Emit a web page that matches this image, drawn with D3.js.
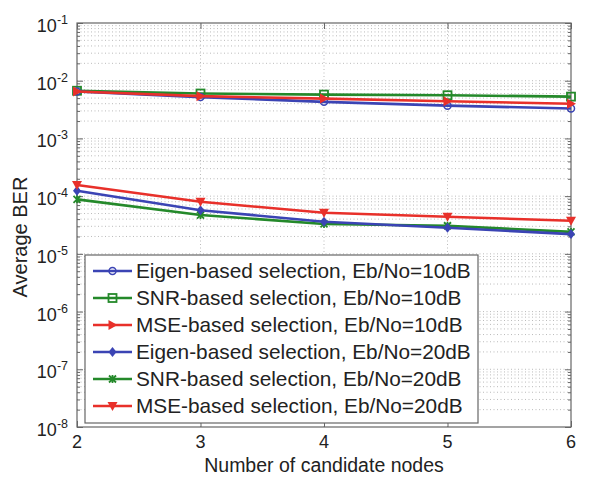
<!DOCTYPE html>
<html>
<head>
<meta charset="utf-8">
<script src="https://cdn.jsdelivr.net/npm/d3@7"></script>
<style>
  body { margin: 0; background: #fff; }
  svg { font-family: Arial, "Liberation Sans", sans-serif; }
</style>
</head>
<body>
<svg id="chart" width="593" height="486"></svg>
<script>
// candidate node counts on the x axis
var nodes = [2, 3, 4, 5, 6];

// average BER
var eigen10 = [6.5e-3, 5.2e-3, 4.3e-3, 3.7e-3, 3.3e-3];
var snr10   = [6.7e-3, 6.0e-3, 5.75e-3, 5.6e-3, 5.3e-3];
var mse10   = [6.5e-3, 5.4e-3, 4.9e-3, 4.4e-3, 4.0e-3];
var eigen20 = [1.24e-4, 5.7e-5, 3.6e-5, 2.83e-5, 2.2e-5];
var snr20   = [8.8e-5, 4.7e-5, 3.3e-5, 3.07e-5, 2.4e-5];
var mse20   = [1.56e-4, 8.0e-5, 5.15e-5, 4.4e-5, 3.75e-5];

var seriesNames = [
    "Eigen-based selection, Eb/No=10dB",
    "SNR-based selection, Eb/No=10dB",
    "MSE-based selection, Eb/No=10dB",
    "Eigen-based selection, Eb/No=20dB",
    "SNR-based selection, Eb/No=20dB",
    "MSE-based selection, Eb/No=20dB"
];
var yExponents = [-1, -2, -3, -4, -5, -6, -7, -8];

var BLUE = "#3b44b4", GREEN = "#24892a", RED = "#e8302a";

var series = [
    { name: seriesNames[0], values: eigen10, color: BLUE,  marker: "circle" },
    { name: seriesNames[1], values: snr10,   color: GREEN, marker: "square" },
    { name: seriesNames[2], values: mse10,   color: RED,   marker: "triRight" },
    { name: seriesNames[3], values: eigen20, color: BLUE,  marker: "diamond" },
    { name: seriesNames[4], values: snr20,   color: GREEN, marker: "star" },
    { name: seriesNames[5], values: mse20,   color: RED,   marker: "triDown" }
];

var svg = d3.select("#chart"),
    MARGINS = { top: 23, right: 22, bottom: 59, left: 77 },
    WIDTH = 593, HEIGHT = 486;

var x = d3.scaleLinear().domain([2, 6]).range([MARGINS.left, WIDTH - MARGINS.right]);
var y = d3.scaleLog().domain([1e-8, 1e-1]).range([HEIGHT - MARGINS.bottom, MARGINS.top]);

var plot = svg.append("g");

// minor + major grid lines
var minor = [];
for (var e = -8; e < -1; e++) {
    for (var m = 2; m <= 9; m++) minor.push(m * Math.pow(10, e));
}
var majors = yExponents.map(function(p) { return Math.pow(10, p); });

plot.append("g").selectAll("line").data(minor.concat(majors.slice(1, -1))).join("line")
    .attr("x1", x(2)).attr("x2", x(6))
    .attr("y1", function(d) { return y(d); }).attr("y2", function(d) { return y(d); })
    .attr("stroke", "#aaa").attr("stroke-width", 0.8).attr("stroke-dasharray", "1,2.5");

plot.append("g").selectAll("line").data(nodes.slice(1, -1)).join("line")
    .attr("x1", function(d) { return x(d); }).attr("x2", function(d) { return x(d); })
    .attr("y1", y(1e-8)).attr("y2", y(1e-1))
    .attr("stroke", "#aaa").attr("stroke-width", 0.8).attr("stroke-dasharray", "1,2.5");

// axes with inward ticks (matlab style)
var yAxisL = d3.axisRight(y).tickValues(majors).tickSize(6).tickFormat("");
var yAxisR = d3.axisLeft(y).tickValues(majors).tickSize(6).tickFormat("");
var yMinorL = d3.axisRight(y).tickValues(minor).tickSize(3).tickFormat("");
var yMinorR = d3.axisLeft(y).tickValues(minor).tickSize(3).tickFormat("");
var xAxisB = d3.axisTop(x).tickValues(nodes).tickSize(6).tickFormat("");
var xAxisT = d3.axisBottom(x).tickValues(nodes).tickSize(6).tickFormat("");

[[yAxisL, "translate(" + x(2) + ",0)"], [yMinorL, "translate(" + x(2) + ",0)"],
 [yAxisR, "translate(" + x(6) + ",0)"], [yMinorR, "translate(" + x(6) + ",0)"],
 [xAxisB, "translate(0," + y(1e-8) + ")"], [xAxisT, "translate(0," + y(1e-1) + ")"]]
    .forEach(function(a) {
        var g = plot.append("g").attr("transform", a[1]).call(a[0]);
        g.select(".domain").remove();
        g.selectAll("line").attr("stroke", "#666");
    });

plot.append("rect")
    .attr("x", x(2)).attr("y", y(1e-1))
    .attr("width", x(6) - x(2)).attr("height", y(1e-8) - y(1e-1))
    .attr("fill", "none").attr("stroke", "#666").attr("stroke-width", 1.2);

// tick labels
var yl = svg.append("g").selectAll("text").data(yExponents).join("text")
    .attr("x", 68).attr("y", function(d) { return y(Math.pow(10, d)) + 9; })
    .attr("text-anchor", "end").attr("font-size", 18).attr("fill", "#222");
yl.append("tspan").text("10");
yl.append("tspan").attr("dy", -8).attr("font-size", 12.5).text(function(d) { return d; });

svg.append("g").selectAll("text").data(nodes).join("text")
    .attr("x", function(d) { return x(d); }).attr("y", 448)
    .attr("text-anchor", "middle").attr("font-size", 18).attr("fill", "#222")
    .text(function(d) { return d; });

svg.append("text")
    .attr("x", x(4)).attr("y", 472)
    .attr("text-anchor", "middle").attr("font-size", 19.5).attr("fill", "#222")
    .text("Number of candidate nodes");

svg.append("text")
    .attr("transform", "translate(27,237) rotate(-90)")
    .attr("text-anchor", "middle").attr("font-size", 20).attr("fill", "#222")
    .text("Average BER");

// markers
function drawMarker(g, type, color) {
    var s = 4;
    if (type === "circle") {
        g.append("circle").attr("r", 3.5).attr("fill", "none").attr("stroke", color).attr("stroke-width", 1.5);
    } else if (type === "square") {
        g.append("rect").attr("x", -s).attr("y", -s).attr("width", 2 * s).attr("height", 2 * s)
            .attr("fill", "none").attr("stroke", color).attr("stroke-width", 1.8);
    } else if (type === "triRight") {
        g.append("path").attr("d", "M-4,-5L5,0L-4,5Z").attr("fill", color);
    } else if (type === "triDown") {
        g.append("path").attr("d", "M-5,-4L5,-4L0,5Z").attr("fill", color);
    } else if (type === "diamond") {
        g.append("path").attr("d", "M0,-5L4,0L0,5L-4,0Z").attr("fill", color);
    } else if (type === "star") {
        g.append("path").attr("d", "M-3.5,-3.5L3.5,3.5M-3.5,3.5L3.5,-3.5M0,-4L0,4")
            .attr("stroke", color).attr("stroke-width", 1.8);
    }
}

var lineGen = d3.line()
    .x(function(d, i) { return x(nodes[i]); })
    .y(function(d) { return y(d); });

var drawOrder = [1, 0, 2, 4, 3, 5];
drawOrder.forEach(function(k) {
    var s = series[k];
    plot.append("path")
        .attr("d", lineGen(s.values))
        .attr("fill", "none").attr("stroke", s.color).attr("stroke-width", 2.6);
    s.values.forEach(function(v, i) {
        drawMarker(plot.append("g").attr("transform", "translate(" + x(nodes[i]) + "," + y(v) + ")"), s.marker, s.color);
    });
});

// legend
var legend = svg.append("g");
legend.append("rect")
    .attr("x", 85).attr("y", 255).attr("width", 393).attr("height", 168)
    .attr("fill", "#fff").attr("stroke", "#666").attr("stroke-width", 1.2);

series.forEach(function(s, i) {
    var ly = 271 + i * 27;
    var row = legend.append("g");
    row.append("line").attr("x1", 93).attr("x2", 132).attr("y1", ly).attr("y2", ly)
        .attr("stroke", s.color).attr("stroke-width", 2.6);
    drawMarker(row.append("g").attr("transform", "translate(112.5," + ly + ")"), s.marker, s.color);
    row.append("text").attr("x", 136).attr("y", ly + 7)
        .attr("font-size", 20.8).attr("fill", "#222").text(s.name);
});
</script>
</body>
</html>
